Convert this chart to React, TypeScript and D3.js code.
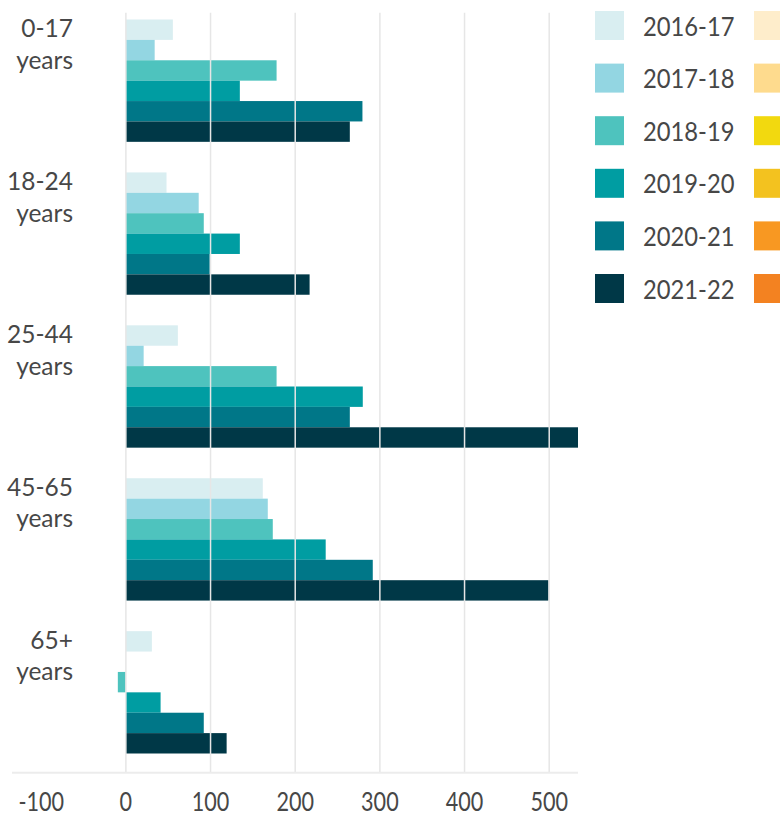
import React from "react";
import * as d3 from "d3";

// Age groups shown on the vertical axis
const categories = ["0-17 years", "18-24 years", "25-44 years", "45-65 years", "65+ years"];

// Financial years (series)
const seasons = ["2016-17", "2017-18", "2018-19", "2019-20", "2020-21", "2021-22"];

// Values per financial year, in category order
const v2016_17 = [55.5, 48, 61.4, 161.7, 30.7];
const v2017_18 = [34, 86, 21, 167.6, null];
const v2018_19 = [178, 92, 178, 173.5, -9.5];
const v2019_20 = [134.6, 134.6, 279.8, 236, 41];
const v2020_21 = [279.4, 99, 264.5, 291.6, 92];
const v2021_22 = [264.5, 217, 534, 499, 119];

const seriesValues = [v2016_17, v2017_18, v2018_19, v2019_20, v2020_21, v2021_22];

// Axis ticks
const xTicks = [-100, 0, 100, 200, 300, 400, 500];

// Palette
const teal = ["#d9eef1", "#93d6e2", "#4ec3be", "#009da2", "#007788", "#003847"];
const warm = ["#feedcb", "#fedb8e", "#f2d90f", "#f3c21f", "#f89822", "#f38221"];

const W = 780;
const H = 817;
const FONT = "Lato, 'Noto Sans', sans-serif";
const TEXT = "#474747";

export default function App() {
  const x = d3.scaleLinear().domain([-134.5, 534]).range([12, 578]);
  const axisY = 772.7;

  const y = d3
    .scaleBand<string>()
    .domain(categories)
    .range([19.5, 753.5])
    .paddingInner(0.2)
    .paddingOuter(0);

  const inner = d3
    .scaleBand<string>()
    .domain(seasons)
    .range([0, y.bandwidth()])
    .padding(0);

  const gridTicks = xTicks.filter((t) => t >= 0);

  const legendY = d3.scalePoint<string>().domain(seasons).range([25.5, 288.5]);

  return (
    <svg
      width={W}
      height={H}
      style={{ position: "absolute", left: 0, top: 0, background: "#fff" }}
    >
      <defs>
        <clipPath id="plot-clip">
          <rect x={0} y={0} width={578} height={H} />
        </clipPath>
      </defs>

      {/* bars */}
      <g clipPath="url(#plot-clip)">
        {categories.map((cat, ci) => (
          <g key={cat} transform={`translate(0,${y(cat)})`}>
            {seasons.map((s, si) => {
              const v = seriesValues[si][ci];
              if (v == null) return null;
              const x0 = x(Math.min(0, v));
              const x1 = x(Math.max(0, v));
              return (
                <rect
                  key={s}
                  x={x0}
                  y={inner(s)}
                  width={Math.max(0, x1 - x0)}
                  height={inner.bandwidth()}
                  fill={teal[si]}
                />
              );
            })}
          </g>
        ))}
      </g>

      {/* vertical gridlines, drawn above the bars */}
      {gridTicks.map((t) => (
        <line
          key={t}
          x1={x(t)}
          x2={x(t)}
          y1={12.7}
          y2={axisY}
          stroke="#e6e6e6"
          strokeWidth={1.5}
        />
      ))}

      {/* baseline */}
      <line x1={12} x2={578} y1={axisY} y2={axisY} stroke="#ececec" strokeWidth={2} />

      {/* tick labels */}
      {xTicks.map((t) => (
        <text
          key={t}
          transform={`translate(${x(t)},811) scale(0.8,1)`}
          textAnchor="middle"
          fontFamily={FONT}
          fontSize={27}
          fill={TEXT}
        >
          {t}
        </text>
      ))}

      {/* category labels */}
      {categories.map((cat) => {
        const [first, second] = cat.split(" ");
        const top = y(cat) ?? 0;
        return (
          <g key={cat} fontFamily={FONT} fontSize={24.5} fill={TEXT} textAnchor="end">
            <text x={73} y={top + 17.5}>
              {first}
            </text>
            <text x={73} y={top + 49.2}>
              {second}
            </text>
          </g>
        );
      })}

      {/* legend */}
      {seasons.map((s, i) => {
        const cy = legendY(s) ?? 0;
        return (
          <g key={s}>
            <rect x={595} y={cy - 14.5} width={29} height={29} fill={teal[i]} />
            <text
              transform={`translate(643,${cy + 10}) scale(0.88,1)`}
              fontFamily={FONT}
              fontSize={27}
              fill={TEXT}
            >
              {s}
            </text>
            <rect x={754} y={cy - 14.5} width={29} height={29} fill={warm[i]} />
          </g>
        );
      })}
    </svg>
  );
}
